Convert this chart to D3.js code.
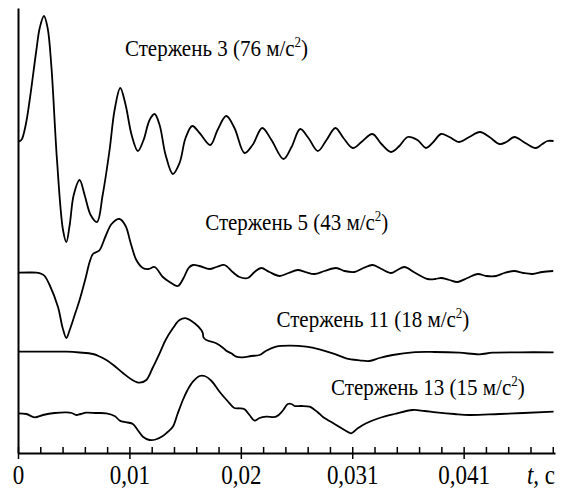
<!DOCTYPE html>
<html>
<head>
<meta charset="utf-8">
<script src="https://cdn.jsdelivr.net/npm/d3@7"></script>
<style>
  body { margin: 0; background: #fff; }
  svg { display: block; }
  .lbl { font-family: "Liberation Serif", "Times New Roman", serif; fill: #000; }
</style>
</head>
<body>
<svg id="chart" width="561" height="489"></svg>
<script>
// time in ms, amplitude in relative units
var rod3_t = [0, 0.30, 0.69, 1.05, 1.65, 1.95, 2.33, 2.66, 3.00, 3.50, 4.04, 4.34, 4.64, 5.00, 5.53, 5.98, 6.52, 7.09, 7.60, 8.22, 8.67, 9.18, 9.66, 10.20, 10.76, 11.27, 11.81, 12.26, 12.71, 13.25, 13.90, 14.50, 15.04, 15.64, 16.30, 17.26, 17.91, 18.69, 19.43, 20.33, 21.05, 21.92, 22.75, 23.83, 24.55, 25.33, 26.07, 26.91, 27.69, 28.49, 29.21, 30.04, 30.83, 31.81, 32.62, 33.49, 34.23, 34.98, 35.85, 36.63, 37.28, 37.97, 38.72, 39.61, 40.51, 41.47, 42.31, 43.21, 43.83, 44.55, 45.53, 46.49, 47.06, 47.53, 48.07];
var rod3_v = [0.3, 2, 17, 42, 92, 114, 126, 114, 75, -18, -88, -100, -83, -53, -38, -53, -73, -80, -53, -8, 32, 54, 37, 7, -9, 2, 22, 28, 17, -13, -32, -21, 4, 16, 9, -3, 12, 26, 14, -11, -3, 14, 2, -17, -5, 13, 4, -9, 2, 14, 4, -6, 0, 8, -2, -10, -4, 5, 2, -6, 0, 8, 5, 0, 5, 10, 5, -2, 0, 5, -1, -6, -2, 1, 1];

var rod5_t = [0, 1.05, 1.65, 2.13, 2.39, 2.84, 3.59, 4.01, 4.34, 4.64, 5.09, 5.53, 6.07, 6.43, 6.73, 7.06, 7.33, 7.87, 8.40, 9.12, 9.66, 10.11, 10.62, 11.21, 11.72, 12.26, 13.00, 13.61, 14.35, 14.86, 15.31, 15.70, 16.30, 17.19, 17.82, 18.54, 19.26, 19.88, 20.63, 21.23, 21.83, 22.57, 23.47, 24.28, 25.11, 25.80, 26.61, 27.51, 28.56, 29.30, 30.20, 31.00, 31.84, 32.62, 33.49, 34.06, 34.68, 35.67, 36.77, 37.46, 37.97, 38.72, 39.46, 40.33, 41.26, 42.04, 42.91, 43.65, 44.55, 45.35, 46.19, 47.06, 48.04];
var rod5_v = [0.3, 0.5, 0.3, -1, -3, -12, -34, -55, -65, -57, -42, -27, -5, 11, 19, 21, 23, 37, 49, 54, 47, 30, 13, 5, 4, 6, -4, -9, -13, -5, 5, 8, 7, 4, 6, 8, 1, -4, -5, 1, 5, 1, -3, 0, 3, 1, -1, 2, 5, 2, 1, 5, 8, 4, 0, 3, 6, 0, -6, -6, -5, -7, -9, -5, -1, -3, -3, 0, 2, 0, -1, 1, 2];

var rod11_t = [0, 1.95, 4.34, 5.53, 6.73, 7.33, 7.93, 8.67, 9.42, 10.20, 10.91, 11.52, 12.08, 12.71, 13.25, 13.90, 14.50, 15.10, 15.85, 16.45, 16.59, 16.65, 16.90, 17.79, 18.39, 18.69, 19.14, 19.59, 20.18, 20.93, 21.68, 22.28, 23.17, 24.37, 25.87, 27.06, 28.25, 29.45, 30.65, 31.54, 32.44, 33.63, 35.43, 37.37, 39.61, 41.41, 42.60, 45.00, 48.07];
var rod11_v = [0.3, 0.3, 0.3, -0.5, -2, -4.5, -8, -14, -21, -27.5, -30.7, -28, -16, -1.3, 12, 23.7, 32, 33.7, 28.7, 22, 18.7, 14.7, 12, 8.7, 4.3, 1.3, -1.3, -4.7, -5.3, -4, -3, 1.3, 5.3, 6.3, 5.3, 2.7, -1.3, -6.3, -8.3, -9, -6, -3, -0.3, 0, -0.7, -2.3, -0.7, -0.3, -0.3];

var rod13_t = [0, 0.75, 1.50, 2.24, 3.29, 4.34, 4.82, 5.24, 5.62, 6.13, 6.97, 7.93, 8.67, 9.12, 9.42, 9.84, 10.31, 10.74, 11.21, 11.81, 12.35, 13.00, 13.43, 13.90, 14.32, 14.80, 15.22, 15.70, 16.30, 16.74, 17.37, 18.09, 18.81, 19.43, 19.88, 20.33, 20.78, 21.23, 21.68, 22.28, 23.17, 23.74, 24.22, 24.55, 24.82, 25.44, 26.16, 26.88, 27.35, 28.41, 29.30, 29.90, 30.47, 31.25, 32.44, 33.78, 35.43, 36.48, 37.53, 39.17, 40.51, 43.21, 48.07];
var rod13_v = [-0.3, -1, -4.3, -2, 0, 0.7, 0, -2, -1, 0.3, 0, -0.3, -3, -7.5, -8.7, -9.5, -11, -17, -23.7, -27, -26.5, -23, -19, -13.7, -1, 13, 23, 31.3, 37, 37, 32, 21.3, 12, 5, 4.7, 3.7, -2, -7.7, -5, -3.7, -3.7, 2, 9, 9, 7, 7, 6.3, 1, -3.7, -11, -17, -20.3, -15.5, -10.3, -5, -1, 3, 2, 0.7, -1, -2, -1, 1.3];

var seriesNames = ["Стержень 3", "Стержень 5", "Стержень 11", "Стержень 13"];
var seriesPeaks = ["76", "43", "18", "15"];
var seriesOffsets = [311, 180, 101, 40];
var seriesT = [rod3_t, rod5_t, rod11_t, rod13_t];
var seriesV = [rod3_v, rod5_v, rod11_v, rod13_v];
// label anchor: [time ms, level]
var labelT = [9.6, 16.8, 23.2, 28.1];
var labelLevel = [397, 223, 126, 58];

var majorTicks = [0, 10, 20, 30, 40];
var majorLabels = ["0", "0,01", "0,02", "0,031", "0,041"];
var minorTicks = d3.range(0, 48.01, 2);

var svg = d3.select("#chart");

var x = d3.scaleLinear().domain([0, 48.2]).range([18, 555]);
var y = d3.scaleLinear().domain([0, 445]).range([453, 8]);

var stretch = 1.15; // tick labels are drawn a bit taller than normal

// curves
var line = d3.line()
  .x(function(d) { return x(d[0]); })
  .y(function(d) { return y(d[1]); })
  .curve(d3.curveCatmullRom.alpha(0.5));

seriesT.forEach(function(ts, i) {
  var pts = ts.map(function(t, j) { return [t, seriesOffsets[i] + seriesV[i][j]]; });
  svg.append("path")
    .datum(pts)
    .attr("d", line)
    .attr("fill", "none")
    .attr("stroke", "#000")
    .attr("stroke-width", 1.8)
    .attr("stroke-linejoin", "round");
});

// axes
svg.append("g")
  .attr("transform", "translate(0,453)")
  .call(d3.axisBottom(x).tickValues(minorTicks).tickSize(-6).tickSizeOuter(0).tickFormat(""))
  .call(function(g) {
    g.select(".domain").attr("stroke-width", 2);
    g.selectAll(".tick line").attr("stroke-width", 1.5);
  });

svg.append("g")
  .attr("transform", "translate(0,453)")
  .call(d3.axisBottom(x).tickValues(majorTicks).tickSize(6).tickSizeOuter(0)
    .tickFormat(function(d, i) { return majorLabels[i]; }))
  .call(function(g) {
    g.select(".domain").remove();
    g.selectAll(".tick line").attr("stroke-width", 1.5);
    g.selectAll(".tick text")
      .attr("class", "lbl")
      .attr("y", 31 / stretch).attr("dy", 0)
      .attr("transform", "scale(1," + stretch + ")")
      .attr("font-size", 23)
      .attr("fill", "#000");
  });

svg.append("g")
  .attr("transform", "translate(18,0)")
  .call(d3.axisLeft(y).tickValues([]).tickSizeOuter(0))
  .call(function(g) { g.select(".domain").attr("stroke-width", 2); });

// axis title
var at = svg.append("text").attr("class", "lbl")
  .attr("transform", "translate(555,484) scale(1," + stretch + ")")
  .attr("text-anchor", "end")
  .attr("font-size", 23);
at.append("tspan").attr("font-style", "italic").text("t");
at.append("tspan").text(", с");

// series labels
seriesNames.forEach(function(name, i) {
  var t = svg.append("text").attr("class", "lbl")
    .attr("transform", "translate(" + x(labelT[i]) + "," + y(labelLevel[i]) + ") scale(1,1.05)")
    .attr("font-size", 21);
  t.append("tspan").text(name + " (" + seriesPeaks[i] + " м/с");
  t.append("tspan").attr("font-size", 13).attr("dy", -9).text("2");
  t.append("tspan").attr("dy", 9).text(")");
});
</script>
</body>
</html>
